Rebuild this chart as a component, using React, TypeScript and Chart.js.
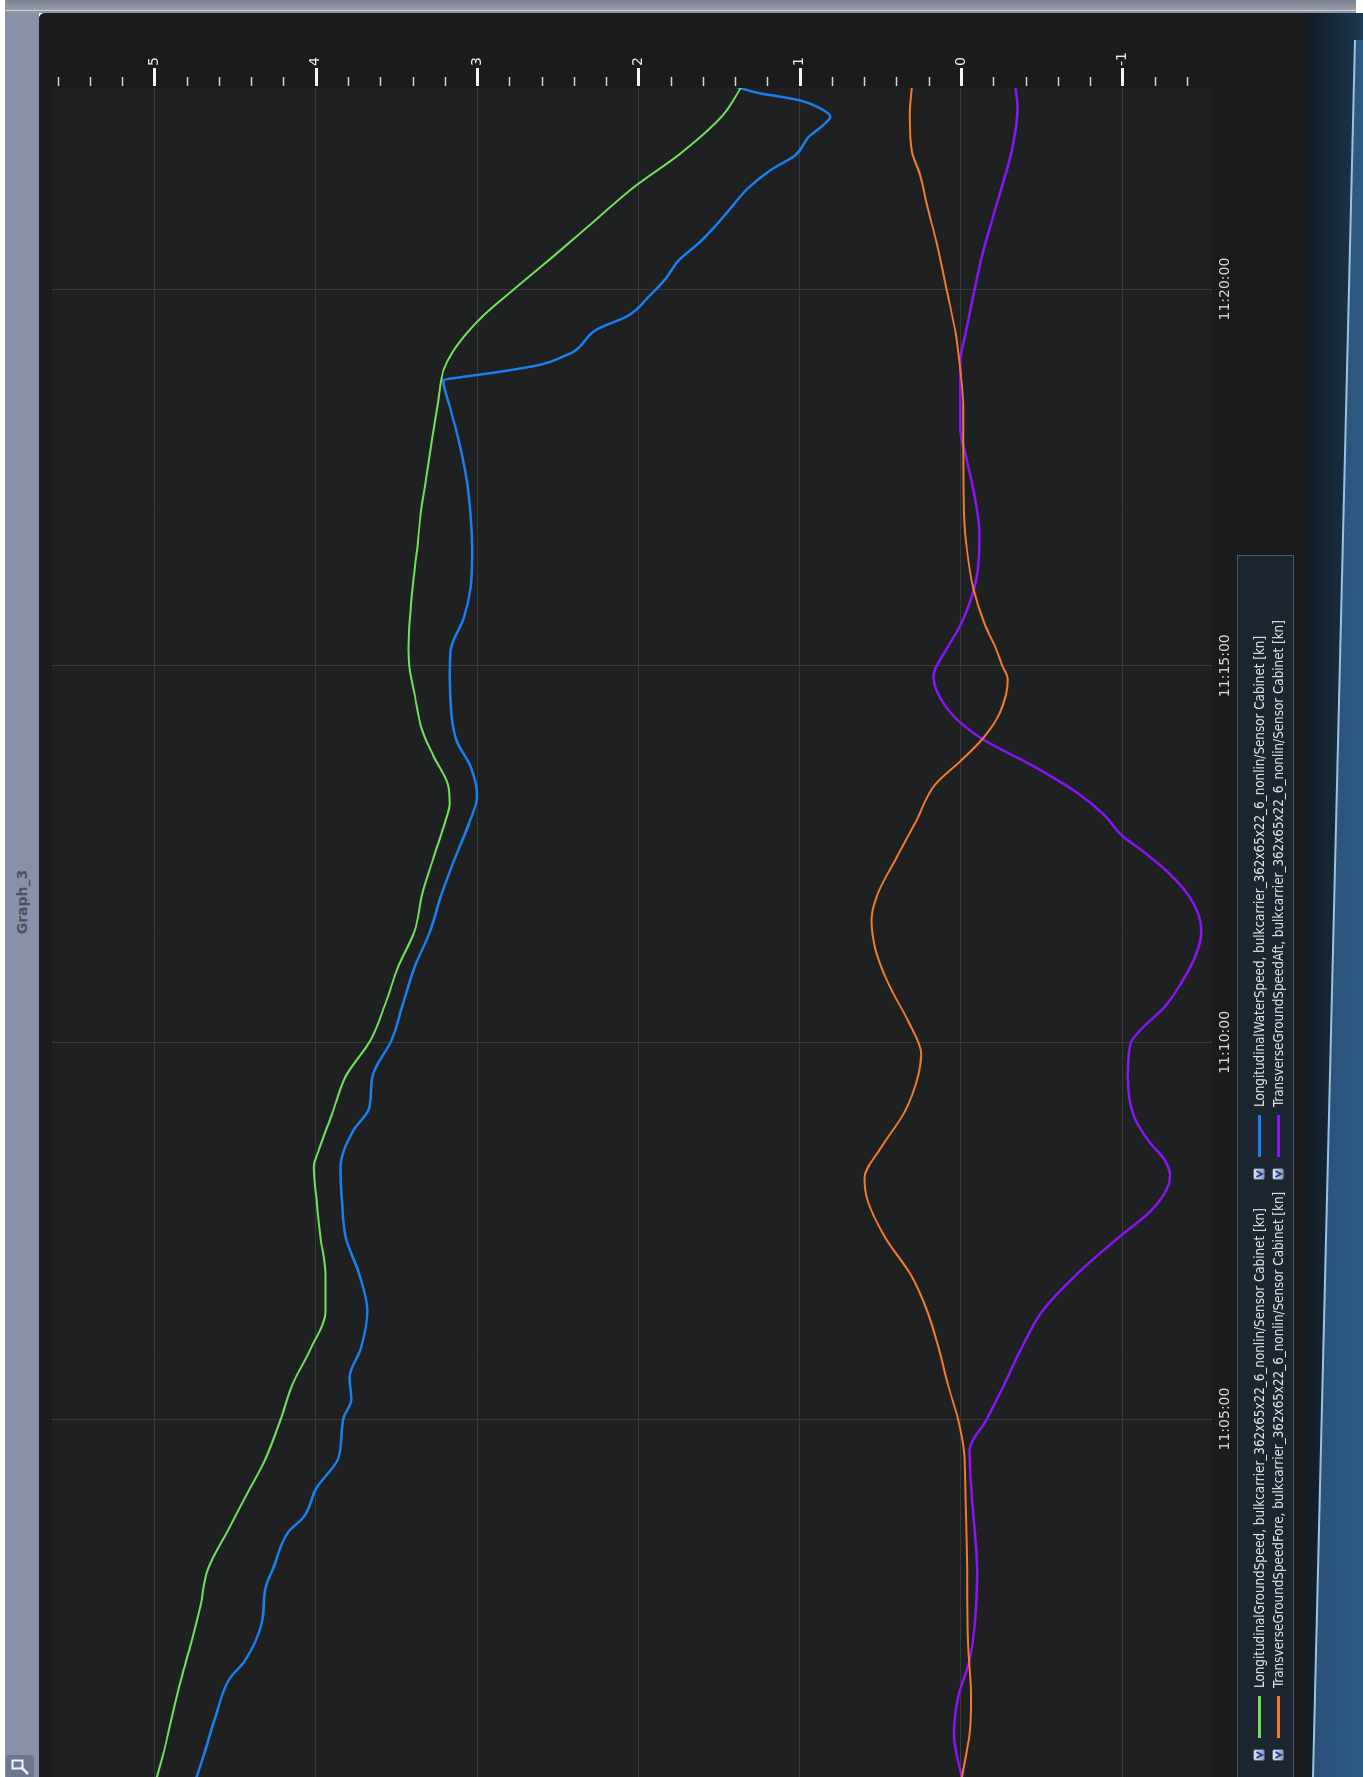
import React, { useEffect, useRef } from 'react';
import { Chart, registerables } from 'chart.js';

Chart.register(...registerables);

// Time is given in minutes after 11:00:00
const groundSpeedTimes = [0.24, 0.57, 1.06, 1.55, 2.03, 2.52, 3.01, 3.5, 3.99, 4.48, 5.0, 5.45, 5.94, 6.43, 6.92, 7.41, 7.9, 8.34, 8.58, 9.07, 9.55, 10.03, 10.52, 11.0, 11.48, 11.97, 12.45, 12.93, 13.17, 13.42, 13.8, 14.14, 14.62, 15.0, 15.22, 16.03, 16.52, 17.0, 17.48, 17.96, 18.45, 18.81, 18.93, 19.17, 19.41, 19.65, 20.0, 20.38, 20.86, 21.34, 21.82, 22.31, 22.7];
const groundSpeedValues = [4.986, 4.943, 4.89, 4.834, 4.772, 4.715, 4.668, 4.55, 4.43, 4.31, 4.217, 4.146, 4.03, 3.94, 3.94, 3.97, 3.994, 4.013, 3.98, 3.895, 3.814, 3.66, 3.567, 3.49, 3.387, 3.34, 3.27, 3.197, 3.17, 3.18, 3.27, 3.34, 3.387, 3.42, 3.425, 3.4, 3.373, 3.35, 3.316, 3.283, 3.245, 3.22, 3.207, 3.15, 3.065, 2.96, 2.77, 2.557, 2.296, 2.035, 1.727, 1.475, 1.357];

const waterSpeedTimes = [0.24, 0.57, 1.06, 1.55, 1.79, 2.28, 2.77, 3.01, 3.5, 3.7, 4.09, 4.48, 5.0, 5.26, 5.55, 5.94, 6.43, 6.92, 7.41, 7.9, 8.34, 8.83, 9.12, 9.55, 10.03, 10.52, 11.0, 11.48, 11.97, 12.45, 12.93, 13.27, 13.66, 14.0, 14.38, 14.86, 15.2, 15.65, 16.03, 16.52, 17.0, 17.48, 17.96, 18.45, 18.79, 18.83, 18.9, 19.0, 19.12, 19.17, 19.46, 19.65, 19.89, 20.14, 20.38, 20.62, 20.86, 21.1, 21.34, 21.58, 21.78, 22.02, 22.16, 22.29, 22.4, 22.5, 22.55, 22.6, 22.7];
const waterSpeedValues = [4.74, 4.69, 4.62, 4.535, 4.44, 4.336, 4.31, 4.265, 4.17, 4.075, 3.994, 3.86, 3.83, 3.78, 3.79, 3.72, 3.68, 3.73, 3.814, 3.838, 3.847, 3.767, 3.67, 3.648, 3.53, 3.458, 3.387, 3.29, 3.22, 3.136, 3.046, 3.0, 3.04, 3.126, 3.16, 3.17, 3.164, 3.08, 3.04, 3.03, 3.04, 3.065, 3.11, 3.17, 3.21, 3.1, 2.865, 2.6, 2.45, 2.4, 2.26, 2.06, 1.94, 1.83, 1.75, 1.62, 1.513, 1.418, 1.32, 1.18, 1.025, 0.944, 0.863, 0.81, 0.873, 0.99, 1.11, 1.25, 1.418];

const transForeTimes = [0.24, 0.81, 1.3, 2.03, 3.01, 3.99, 4.575, 5.0, 5.45, 5.94, 6.43, 6.92, 7.41, 7.9, 8.2, 8.58, 9.07, 9.55, 9.84, 10.28, 10.76, 11.24, 11.63, 11.97, 12.45, 12.93, 13.42, 13.75, 14.04, 14.38, 14.82, 15.0, 15.22, 15.55, 16.03, 16.52, 17.0, 17.96, 18.45, 18.93, 19.41, 20.0, 20.62, 21.1, 21.53, 21.82, 22.31, 22.7];
const transForeValues = [-0.005, -0.052, -0.062, -0.043, -0.038, -0.028, -0.019, 0.019, 0.08, 0.138, 0.209, 0.313, 0.47, 0.579, 0.598, 0.503, 0.351, 0.266, 0.247, 0.327, 0.446, 0.531, 0.555, 0.517, 0.4, 0.28, 0.161, -0.005, -0.138, -0.242, -0.29, -0.256, -0.218, -0.147, -0.076, -0.038, -0.019, -0.014, -0.014, 0.005, 0.033, 0.09, 0.152, 0.209, 0.256, 0.304, 0.318, 0.304];

const transAftTimes = [0.24, 0.81, 1.3, 1.79, 2.28, 3.01, 3.99, 4.575, 5.0, 5.45, 5.94, 6.43, 6.92, 7.41, 7.77, 8.1, 8.24, 8.44, 8.68, 9.02, 9.55, 9.98, 10.18, 10.47, 10.76, 11.14, 11.48, 11.68, 11.97, 12.3, 12.55, 12.74, 13.03, 13.32, 13.66, 14.04, 14.38, 14.86, 15.22, 15.55, 15.98, 16.27, 16.76, 17.24, 17.72, 18.16, 19.03, 19.41, 20.0, 20.38, 20.86, 21.34, 21.82, 22.4, 22.7];
const transAftValues = [-0.005, 0.043, 0.019, -0.052, -0.085, -0.1, -0.066, -0.052, -0.161, -0.266, -0.375, -0.503, -0.716, -0.977, -1.18, -1.286, -1.295, -1.262, -1.167, -1.072, -1.034, -1.05, -1.12, -1.262, -1.357, -1.452, -1.49, -1.475, -1.404, -1.262, -1.12, -1.0, -0.882, -0.716, -0.455, -0.123, 0.066, 0.171, 0.09, 0.0, -0.076, -0.104, -0.114, -0.085, -0.038, 0.005, 0.005, -0.028, -0.085, -0.123, -0.185, -0.251, -0.313, -0.35, -0.337];

const seriesLabels = [
  'LongitudinalGroundSpeed, bulkcarrier_362x65x22_6_nonlin/Sensor Cabinet [kn]',
  'LongitudinalWaterSpeed, bulkcarrier_362x65x22_6_nonlin/Sensor Cabinet [kn]',
  'TransverseGroundSpeedFore, bulkcarrier_362x65x22_6_nonlin/Sensor Cabinet [kn]',
  'TransverseGroundSpeedAft, bulkcarrier_362x65x22_6_nonlin/Sensor Cabinet [kn]',
];
const seriesColors = ['#6fe05c', '#1a80f0', '#f07a2e', '#8a14f5'];
const seriesWidths = [2, 2.5, 2, 2.5];

const timeTickMinutes = [5, 10, 15, 20];
const valueTicks = [-1, 0, 1, 2, 3, 4, 5];
const minorValueTicks = [-1.4, -1.2, -0.8, -0.6, -0.4, -0.2, 0.2, 0.4, 0.6, 0.8, 1.2, 1.4, 1.6, 1.8, 2.2, 2.4, 2.6, 2.8, 3.2, 3.4, 3.6, 3.8, 4.2, 4.4, 4.6, 4.8, 5.2, 5.4, 5.6];
const graphTitle = 'Graph_3';

const timeMin = 0.248;
const timeMax = 22.669;
const valueMin = -1.556;
const valueMax = 5.635;

const FRAME_W = 1764;
const FRAME_H = 1268;
const CANVAS_H = 1200;

const axisDecor = {
  id: 'axisDecor',
  beforeDraw(chart: any) {
    const { ctx, chartArea: a } = chart;
    ctx.save();
    ctx.fillStyle = '#1b1b1d';
    ctx.fillRect(0, 0, chart.width, chart.height);
    ctx.fillStyle = '#1f2022';
    ctx.fillRect(a.left, a.top, a.right - a.left, a.bottom - a.top);
    ctx.restore();
  },
  afterDraw(chart: any) {
    const { ctx, chartArea: a } = chart;
    const ys = chart.scales.y;
    ctx.save();
    ctx.lineCap = 'butt';
    const draw = (v: number, major: boolean) => {
      const py = Math.round(ys.getPixelForValue(v)) + 0.5;
      ctx.strokeStyle = major ? '#f4f4f4' : '#d4d4d4';
      ctx.lineWidth = major ? 3 : 1.5;
      ctx.beginPath();
      ctx.moveTo(a.right + 2, py);
      ctx.lineTo(a.right + (major ? 20 : 11), py);
      ctx.stroke();
    };
    minorValueTicks.forEach((v) => draw(v, false));
    valueTicks.forEach((v) => draw(v, true));
    ctx.restore();
  },
};

function CheckIcon() {
  return (
    <svg width="12" height="12" style={{ display: 'block', flex: '0 0 auto' }}>
      <defs>
        <linearGradient id="cbg" x1="0" y1="0" x2="0" y2="1">
          <stop offset="0" stopColor="#e4e8f0" />
          <stop offset="1" stopColor="#8e9ab2" />
        </linearGradient>
      </defs>
      <rect x="0.5" y="0.5" width="11" height="11" rx="2" fill="url(#cbg)" stroke="#56627a" />
      <path d="M3 3.5 L6 9 L9 3.5" stroke="#1f3fb0" strokeWidth="1.8" fill="none" />
    </svg>
  );
}

export default function App() {
  const ref = useRef<HTMLCanvasElement | null>(null);

  useEffect(() => {
    if (!ref.current) return;
    const seriesTimes = [groundSpeedTimes, waterSpeedTimes, transForeTimes, transAftTimes];
    const seriesValues = [groundSpeedValues, waterSpeedValues, transForeValues, transAftValues];
    const chart = new Chart(ref.current, {
      type: 'line',
      data: {
        datasets: seriesLabels.map((label, i) => ({
          label,
          data: seriesTimes[i].map((t, j) => ({ x: t, y: seriesValues[i][j] })),
          borderColor: seriesColors[i],
          backgroundColor: seriesColors[i],
          borderWidth: seriesWidths[i],
          pointRadius: 0,
          fill: false,
          cubicInterpolationMode: 'monotone' as const,
        })),
      },
      options: {
        animation: false,
        responsive: false,
        maintainAspectRatio: false,
        layout: { padding: { top: 13, left: 0, right: 0, bottom: 0 } },
        plugins: { legend: { display: false }, tooltip: { enabled: false }, title: { display: false } },
        scales: {
          x: {
            type: 'linear',
            position: 'bottom',
            min: timeMin,
            max: timeMax,
            afterBuildTicks: (s: any) => {
              s.ticks = timeTickMinutes.map((v) => ({ value: v }));
            },
            afterFit: (s: any) => {
              s.height = CANVAS_H - 1173;
              s.paddingLeft = 0;
              s.paddingRight = 0;
            },
            grid: { color: '#38393c', lineWidth: 1, drawTicks: false },
            border: { display: false },
            ticks: {
              padding: 5,
              color: '#d8d8d8',
              maxRotation: 0,
              minRotation: 0,
              autoSkip: false,
              font: { family: 'DejaVu Sans', size: 14 },
              callback: (v: any) => `11:${String(v).padStart(2, '0')}:00`,
            },
          },
          y: {
            type: 'linear',
            position: 'right',
            min: valueMin,
            max: valueMax,
            afterBuildTicks: (s: any) => {
              s.ticks = valueTicks.map((v) => ({ value: v }));
            },
            afterFit: (s: any) => {
              s.width = FRAME_W - 1689;
              s.paddingTop = 0;
              s.paddingBottom = 0;
            },
            grid: { color: '#38393c', lineWidth: 1, drawTicks: false },
            border: { display: false },
            ticks: {
              padding: 22,
              color: '#ececec',
              autoSkip: false,
              font: { family: 'DejaVu Sans', size: 14 },
              callback: (v: any) => String(v),
            },
          },
        },
      } as any,
      plugins: [axisDecor],
    });
    return () => chart.destroy();
  }, []);

  const legendFont = "'Liberation Sans Narrow', 'Arial Narrow', 'DejaVu Sans Condensed', 'Liberation Sans', sans-serif";
  const colX = [17, 598];
  const rowTop = [12, 31];

  return (
    <div style={{ position: 'absolute', left: 0, top: 0, width: 1363, height: 1777, overflow: 'hidden', background: '#ffffff' }}>
      {/* window top edge */}
      <div style={{ position: 'absolute', left: 5, top: 0, width: 1351, height: 10, background: 'linear-gradient(#7c828f, #979daa)' }} />
      <div style={{ position: 'absolute', left: 5, top: 10, width: 1351, height: 1, background: '#c9ced8' }} />
      <div style={{ position: 'absolute', left: 5, top: 11, width: 1351, height: 2, background: '#8e95a4' }} />
      {/* title strip */}
      <div style={{ position: 'absolute', left: 5, top: 13, width: 34, height: 1764, background: '#8891a7' }}>
        <div
          style={{
            position: 'absolute',
            left: 17 - 60,
            top: 889 - 10,
            width: 120,
            height: 20,
            lineHeight: '20px',
            textAlign: 'center',
            transform: 'rotate(-90deg)',
            color: '#4a5163',
            fontFamily: 'DejaVu Sans, sans-serif',
            fontWeight: 'bold',
            fontSize: 14,
          }}
        >
          {graphTitle}
        </div>
        {/* small window button at the bottom of the strip */}
        <div style={{ position: 'absolute', left: 1, top: 1742, width: 28, height: 24, borderRadius: 4, background: '#6e7790' }}>
          <svg width="28" height="24" style={{ display: 'block' }}>
            <rect x="6.5" y="5.5" width="10" height="8" fill="none" stroke="#eef1f6" strokeWidth="2" />
            <path d="M15 12 L22 19" stroke="#eef1f6" strokeWidth="2.5" />
          </svg>
        </div>
      </div>
      {/* desktop strip on the right */}
      <div style={{ position: 'absolute', left: 1307, top: 13, width: 56, height: 1764, background: 'linear-gradient(to right, #111b24, #162a3c 55%, #1c3a56)' }}>
        <div style={{ position: 'absolute', inset: 0, background: '#9cc2e2', clipPath: 'polygon(47px 27px, 56px 27px, 56px 1764px, 5px 1764px)' }} />
        <div style={{ position: 'absolute', inset: 0, background: 'linear-gradient(to right, #28507a, #2d5a82)', clipPath: 'polygon(49px 27px, 56px 27px, 56px 1764px, 7px 1764px)' }} />
      </div>
      {/* rotated chart frame */}
      <div
        style={{
          position: 'absolute',
          left: 39,
          top: 13,
          width: FRAME_W,
          height: FRAME_H,
          transformOrigin: '0 0',
          transform: `translateY(${FRAME_W}px) rotate(-90deg)`,
          background: '#1b1b1d',
          borderTopRightRadius: 6,
          overflow: 'hidden',
        }}
      >
        <canvas ref={ref} width={FRAME_W} height={CANVAS_H} style={{ display: 'block', width: FRAME_W, height: CANVAS_H }} />
        <div
          style={{
            position: 'absolute',
            left: -2,
            top: 1198,
            width: 1224,
            height: 57,
            background: '#1c2631',
            border: '1px solid #4d5866',
            boxSizing: 'border-box',
          }}
        >
          {seriesLabels.map((label, i) => {
            const col = i % 2;
            const row = Math.floor(i / 2);
            return (
              <div key={label} style={{ position: 'absolute', left: colX[col], top: rowTop[row], height: 18, display: 'flex', alignItems: 'center', whiteSpace: 'nowrap' }}>
                <CheckIcon />
                <div style={{ width: 42, height: 3, background: seriesColors[i], marginLeft: 11, flex: '0 0 auto' }} />
                <span
                  style={{
                    marginLeft: 8,
                    display: 'inline-block',
                    transform: 'scaleX(0.95)',
                    transformOrigin: '0 50%',
                    color: '#e2e2e2',
                    fontFamily: legendFont,
                    fontSize: 14,
                    lineHeight: '18px',
                  }}
                >
                  {label}
                </span>
              </div>
            );
          })}
        </div>
      </div>
    </div>
  );
}
